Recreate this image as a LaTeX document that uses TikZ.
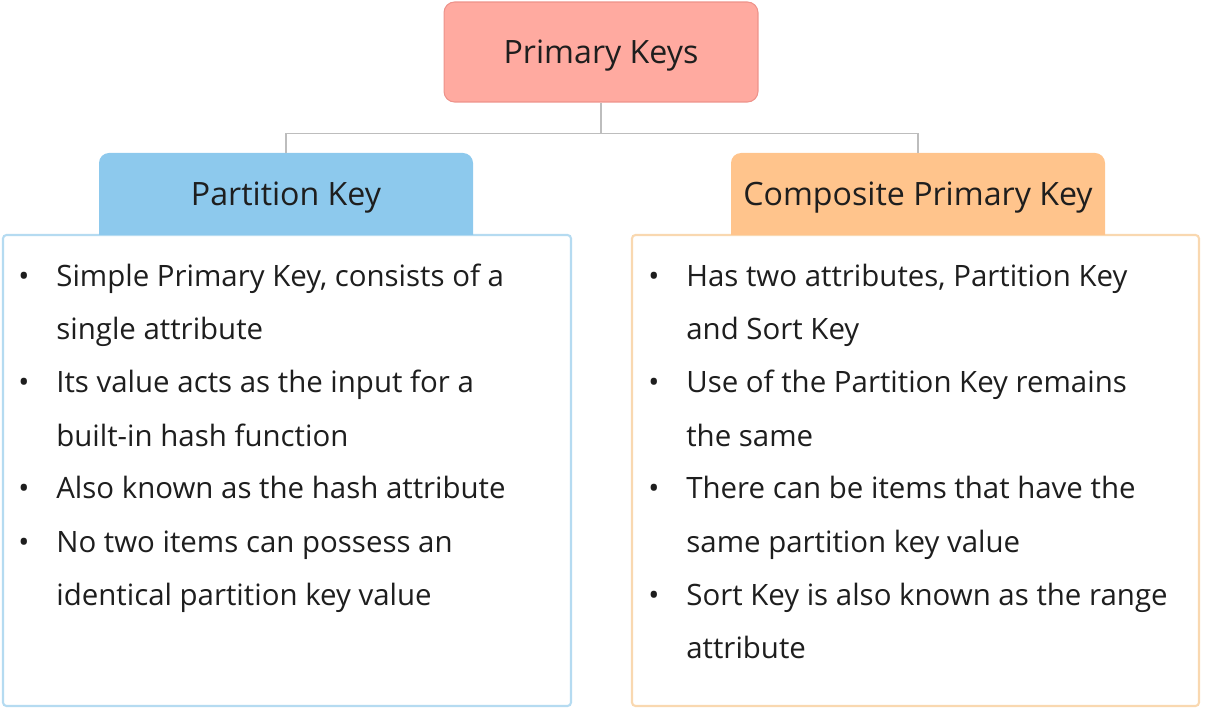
\documentclass[tikz,border=0pt]{standalone}
\usepackage{fontspec}
\setmainfont{Open Sans}
\usetikzlibrary{positioning,calc}
\definecolor{rootcol}{HTML}{FFAAA0}
\definecolor{rootline}{HTML}{EE928A}
\definecolor{pkcol}{HTML}{8DC9ED}
\definecolor{pkline}{HTML}{B5DBF1}
\definecolor{cpkcol}{HTML}{FFC48C}
\definecolor{cpkline}{HTML}{F9D8B0}
\definecolor{conncol}{HTML}{BDBDBD}
\definecolor{txtcol}{HTML}{1E1E1E}

\begin{document}
\begin{tikzpicture}[x=0.02cm, y=-0.02cm,
  root/.style={draw=rootline, fill=rootcol, rounded corners=6pt, line width=0.6pt,
               minimum width=6.28cm, minimum height=2cm, font=\fontsize{18.3}{20}\selectfont,
               text height=0.46cm, text depth=0pt, text=txtcol},
  hdr/.style={minimum width=7.48cm, minimum height=1.64cm, inner sep=0pt,
              font=\fontsize{18.3}{20}\selectfont, text height=0.46cm, text depth=0pt,
              text=txtcol},
  body/.style={rounded corners=2pt, line width=1.2pt, fill=white},
  line/.style={anchor=base west, inner sep=0pt, font=\fontsize{16.75}{20}\selectfont, text=txtcol},
  dot/.style={anchor=base, inner sep=0pt, font=\fontsize{16.75}{20}\selectfont, text=txtcol},
  conn/.style={draw=conncol, line width=1.1pt}]
  \useasboundingbox (0,0) rectangle (1207,709);
  % top
  \node[root] (root) at (601,52) {Primary Keys};
  % boxes
  \draw[body, draw=pkline] (3,235) rectangle (571,706);
  \draw[body, draw=cpkline] (632,235) rectangle (1199,706);
  \fill[pkcol] (99,235) -- (99,163) arc[start angle=180, end angle=270, radius=10]
    -- (463,153) arc[start angle=270, end angle=360, radius=10] -- (473,235) -- cycle;
  \fill[cpkcol] (731,235) -- (731,163) arc[start angle=180, end angle=270, radius=10]
    -- (1095,153) arc[start angle=270, end angle=360, radius=10] -- (1105,235) -- cycle;
  \node[hdr] (pk) at (286,194) {Partition Key};
  \node[hdr] (cpk) at (918,194) {Composite Primary Key};
  % connectors
  \coordinate (fork) at ($(root.south)+(0,31)$);
  \draw[conn] (root.south) -- (fork) -| (pk.north);
  \draw[conn] (fork) -| (cpk.north);
  % left list
  \foreach \txt [count=\i] in {{Simple Primary Key, consists of a},{single attribute},
      {Its value acts as the input for a},{built-in hash function},
      {Also known as the hash attribute},{No two items can possess an},
      {identical partition key value}}
    \node[line] (pl\i) at (56,{287+53*(\i-1)}) {\txt};
  \foreach \i in {1,3,5,6}
    \node[dot] (pd\i) at (24,{287+53*(\i-1)}) {•};
  % right list
  \foreach \txt [count=\i] in {{Has two attributes, Partition Key},{and Sort Key},
      {Use of the Partition Key remains},{the same},
      {There can be items that have the},{same partition key value},
      {Sort Key is also known as the range},{attribute}}
    \node[line] (cl\i) at (686,{287+53*(\i-1)}) {\txt};
  \foreach \i in {1,3,5,7}
    \node[dot] (cd\i) at (654,{287+53*(\i-1)}) {•};
\end{tikzpicture}
\end{document}
